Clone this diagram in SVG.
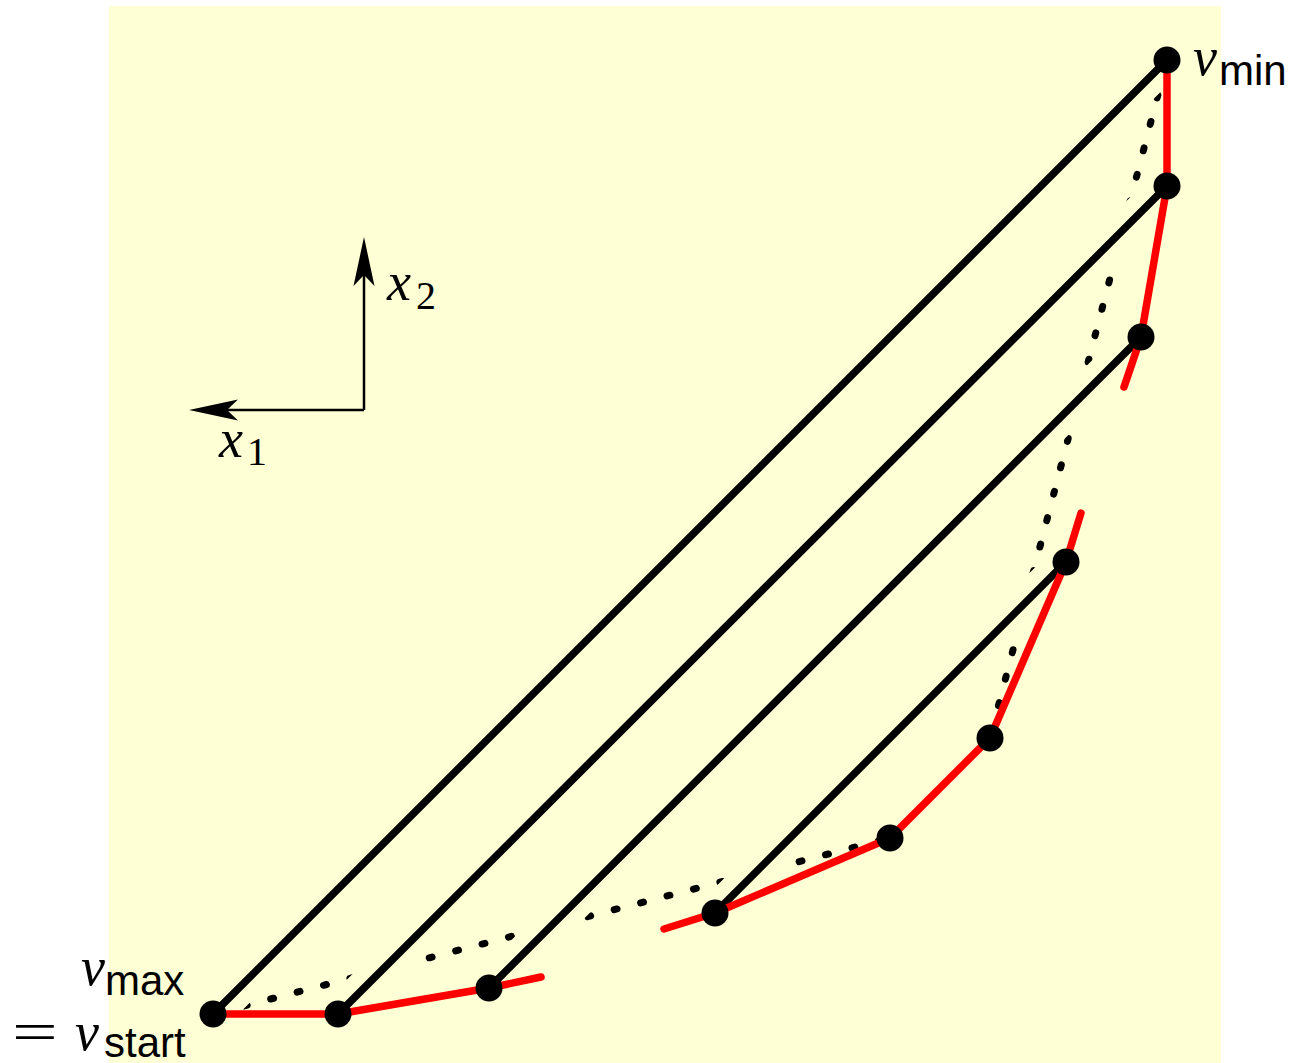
<svg xmlns="http://www.w3.org/2000/svg" width="1292" height="1063" viewBox="0 0 1292 1063">
<defs>
<style>
.bg{fill:#ffffd5}
.halo{stroke:#ffffd5;stroke-width:36;stroke-linecap:butt;fill:none}
.edge{stroke:#000;stroke-width:7.5;stroke-linecap:round;fill:none}
.red{stroke:#ff0000;stroke-width:7.5;stroke-linecap:round;stroke-linejoin:round;fill:none}
.dot{stroke:#000;stroke-width:7;stroke-linecap:round;stroke-dasharray:3 24.3;fill:none}
.node{fill:#000}
.axis{stroke:#000;stroke-width:2.5;fill:none;marker-end:url(#arr)}
.mi{font-family:"Liberation Serif",serif;font-style:italic;font-size:54px}
.sub{font-family:"Liberation Sans",sans-serif;font-size:42px}
.num{font-family:"Liberation Serif",serif;font-size:40px}
.eq{font-family:"Liberation Serif",serif;font-size:56px}
</style>
<marker id="arr" markerUnits="userSpaceOnUse" viewBox="-50 -12 52 24" markerWidth="52" markerHeight="24" refX="-38" refY="0" orient="auto">
<path d="M0,0 L-49,-10.5 L-38,0 L-49,10.5 Z" fill="#000"/>
</marker>
</defs>
<rect class="bg" x="109" y="6" width="1112" height="1057"/>
<g id="connectors">
<path class="dot" d="M213,1014 L890,838" stroke-dashoffset="-5"/>
<path class="dot" d="M990,738 L1167,60" stroke-dashoffset="-6.3"/>
<path class="halo" d="M213,1014 L1167,60"/>
<path class="halo" d="M338,1014 L1167,186"/>
<path class="halo" d="M489,988 L1141,337"/>
<path class="halo" d="M715,913 L1066,562"/>
<path class="edge" d="M213,1014 L1167,60"/>
<path class="edge" d="M338,1014 L1167,186"/>
<path class="edge" d="M489,988 L1141,337"/>
<path class="edge" d="M715,913 L1066,562"/>
<path class="red" d="M213,1014 L338,1014 L489,988 L541,977"/>
<path class="red" d="M664,929 L715,913 L890,838 L990,738 L1066,562 L1081,513"/>
<path class="red" d="M1124,387 L1141,337 L1167,186 L1167,60"/>
</g>
<g id="node-vstart"><circle class="node" cx="213" cy="1014" r="13.5"/>
<text class="mi" x="81" y="985">v</text><text class="sub" x="105" y="995">max</text>
<text class="eq" transform="translate(12,1051) scale(1.45,1)">=</text>
<text class="mi" x="75" y="1050">v</text><text class="sub" x="104" y="1057">start</text></g>
<g id="node-1"><circle class="node" cx="338" cy="1014" r="13.5"/></g>
<g id="node-2"><circle class="node" cx="489" cy="988" r="13.5"/></g>
<g id="node-3"><circle class="node" cx="715" cy="913" r="13.5"/></g>
<g id="node-4"><circle class="node" cx="890" cy="838" r="13.5"/></g>
<g id="node-5"><circle class="node" cx="990" cy="738" r="13.5"/></g>
<g id="node-6"><circle class="node" cx="1066" cy="562" r="13.5"/></g>
<g id="node-7"><circle class="node" cx="1141" cy="337" r="13.5"/></g>
<g id="node-8"><circle class="node" cx="1167" cy="186" r="13.5"/></g>
<g id="node-vmin"><circle class="node" cx="1167" cy="60" r="13.5"/>
<text class="mi" x="1193" y="75">v</text><text class="sub" x="1219" y="85">min</text></g>
<g id="axes">
<path class="axis" d="M364,410 L364,275"/>
<path class="axis" d="M364,410 L227,410"/>
<text class="mi" x="387" y="300">x</text><text class="num" x="416" y="309">2</text>
<text class="mi" x="219" y="457">x</text><text class="num" x="247" y="465">1</text>
</g>
</svg>
